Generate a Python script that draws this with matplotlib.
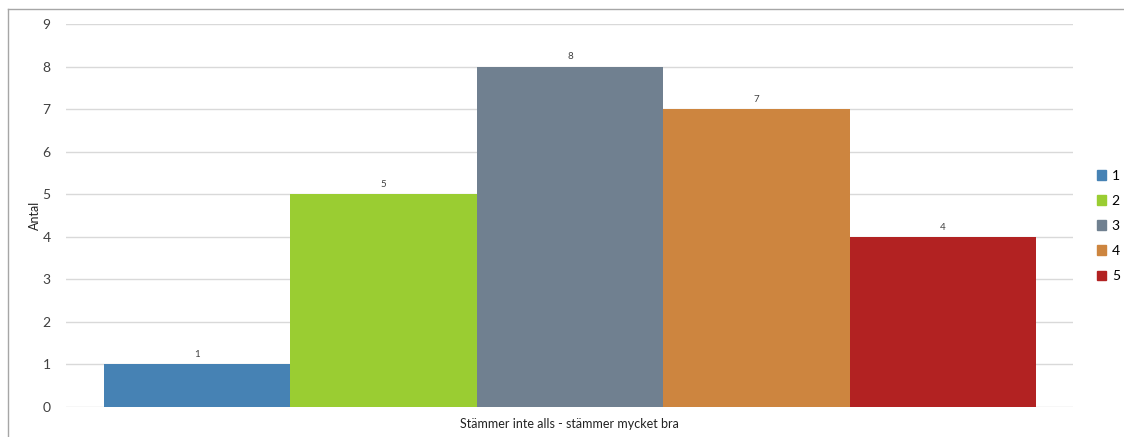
import matplotlib
matplotlib.use("Agg")
import matplotlib.pyplot as plt
from matplotlib.lines import Line2D
from matplotlib.patches import Patch

categories = ["1", "2", "3", "4", "5"]
counts = [1, 5, 8, 7, 4]
colors = ["#4682B4", "#9ACD32", "#708090", "#CD853F", "#B22222"]

plt.rcParams["font.family"] = ["Lato", "DejaVu Sans"]

fig = plt.figure(figsize=(11.24, 4.37), dpi=100)
ax = fig.add_axes([66/1124, 30/437, (1073-66)/1124, (407-24)/437])

x = range(len(categories))
bars = ax.bar(x, counts, width=1.0, color=colors, zorder=2)
for b, v in zip(bars, counts):
    ax.text(b.get_x() + b.get_width()/2, v + 0.12, str(v), ha="center",
            va="bottom", fontsize=7, color="#404040")

ax.set_xlim(-0.704, 4.698)
ax.set_ylim(0, 9)
ax.set_yticks(range(10))
ax.set_xticks([])
ax.yaxis.grid(True, color="#d9d9d9", lw=1, zorder=0)
for s in ax.spines.values():
    s.set_visible(False)
ax.tick_params(axis="y", length=0, pad=11, labelsize=10, labelcolor="#404040")
ax.set_ylabel("Antal", fontsize=9, color="#222222", labelpad=1)
ax.set_xlabel("Stämmer inte alls - stämmer mycket bra", fontsize=9,
              color="#222222", labelpad=8)

handles = [Patch(color=c, label=l) for c, l in zip(colors, categories)]
fig.legend(handles=handles, loc="center left", bbox_to_anchor=(1084/1124, 1 - 226/437),
           frameon=False, handlelength=0.7, handleheight=0.7, handletextpad=0.4,
           labelspacing=0.95, fontsize=10)

# frame around the chart
fig.add_artist(Line2D([8/1124, 8/1124], [0, 1 - 9/437], color="#a6a6a6", lw=1))
fig.add_artist(Line2D([8/1124, 1], [1 - 9/437, 1 - 9/437], color="#a6a6a6", lw=1))

fig.savefig("out.png", dpi=100)
